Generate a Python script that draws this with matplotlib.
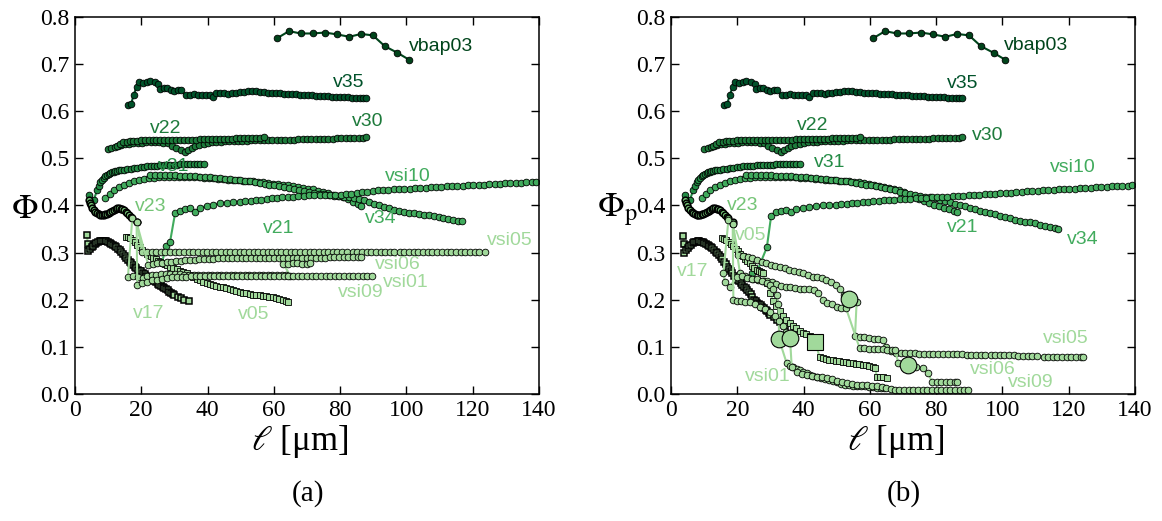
import matplotlib
matplotlib.use("Agg")
import matplotlib.pyplot as plt

# ---------------- data ----------------
# shared by both panels (Phi_p == Phi for these)
vbap03_x = [61.0, 64.6, 68.1, 71.8, 75.4, 79.1, 82.8, 86.3, 89.9, 93.5, 97.3, 100.9]
vbap03_y = [0.755, 0.770, 0.765, 0.765, 0.767, 0.763, 0.758, 0.764, 0.761, 0.738, 0.724, 0.709]

v35_x = [16.1, 17.0, 17.7, 18.6, 19.4, 20.5, 21.8, 22.7, 24.2, 25.2,
         25.7, 26.8, 27.8, 28.9, 30.0, 31.0, 32.0, 33.4, 34.6, 35.8,
         37.0, 38.2, 39.4, 40.6, 41.6, 42.7, 43.9, 45.1, 46.3, 47.5,
         48.7, 49.9, 51.1, 52.3, 53.5, 54.7, 55.9, 57.1, 58.3, 59.5,
         60.7, 61.9, 63.1, 64.3, 65.5, 66.7, 67.9, 69.1, 70.3, 71.5,
         72.7, 73.9, 75.1, 76.3, 77.5, 78.7, 79.9, 81.1, 82.3, 83.5,
         84.7, 85.9, 87.0, 87.9]
v35_y = [0.614, 0.616, 0.635, 0.651, 0.662, 0.660, 0.663, 0.665, 0.661, 0.658,
         0.648, 0.650, 0.649, 0.644, 0.642, 0.645, 0.644, 0.634, 0.634, 0.636,
         0.635, 0.634, 0.635, 0.634, 0.631, 0.639, 0.638, 0.638, 0.637, 0.638,
         0.639, 0.640, 0.641, 0.642, 0.643, 0.642, 0.641, 0.640, 0.639, 0.639,
         0.638, 0.638, 0.637, 0.637, 0.636, 0.636, 0.635, 0.635, 0.634, 0.634,
         0.633, 0.633, 0.632, 0.632, 0.631, 0.631, 0.630, 0.630, 0.630, 0.629,
         0.629, 0.628, 0.628, 0.628]

v30_x = [10.0, 11.0, 12.0, 13.0, 14.0, 15.0, 16.3, 17.6, 18.9, 20.2,
         21.5, 22.8, 24.1, 25.4, 26.7, 28.0, 29.3, 30.6, 31.9, 33.2,
         34.2, 35.2, 36.2, 37.5, 38.8, 40.1, 41.4, 42.7, 44.0, 45.3,
         46.6, 47.9, 49.2, 50.5, 51.8, 53.1, 54.4, 55.7, 57.0, 58.3,
         59.6, 60.9, 62.2, 63.5, 64.8, 66.1, 67.4, 68.7, 70.0, 71.3,
         72.6, 73.9, 75.2, 76.5, 77.8, 79.1, 80.4, 81.7, 83.0, 84.3,
         85.6, 86.9, 87.9]
v30_y = [0.519, 0.522, 0.525, 0.527, 0.529, 0.530, 0.531, 0.532, 0.533, 0.533,
         0.534, 0.534, 0.534, 0.534, 0.533, 0.532, 0.527, 0.522, 0.518, 0.514,
         0.518, 0.522, 0.526, 0.529, 0.531, 0.533, 0.534, 0.535, 0.535, 0.536,
         0.536, 0.536, 0.537, 0.537, 0.537, 0.538, 0.538, 0.538, 0.539, 0.539,
         0.539, 0.539, 0.540, 0.540, 0.540, 0.540, 0.541, 0.541, 0.541, 0.541,
         0.541, 0.542, 0.542, 0.542, 0.542, 0.543, 0.543, 0.543, 0.543, 0.544,
         0.544, 0.544, 0.545]

v22_x = [12.6, 13.6, 14.6, 15.6, 16.6, 17.6, 18.6, 19.8, 21.0, 22.2,
         23.4, 24.6, 25.8, 27.0, 28.2, 29.4, 30.6, 31.8, 33.0, 34.2,
         35.4, 36.6, 37.8, 39.0, 40.2, 41.4, 42.6, 43.8, 45.0, 46.2,
         47.4, 48.6, 49.8, 51.0, 52.2, 53.4, 54.6, 55.8, 57.0]
v22_y = [0.527, 0.531, 0.534, 0.535, 0.536, 0.537, 0.537, 0.538, 0.538, 0.538,
         0.538, 0.539, 0.539, 0.539, 0.539, 0.539, 0.539, 0.540, 0.540, 0.540,
         0.540, 0.540, 0.541, 0.541, 0.541, 0.541, 0.542, 0.542, 0.542, 0.542,
         0.542, 0.543, 0.543, 0.543, 0.543, 0.544, 0.544, 0.544, 0.545]

v31_x = [4.2, 5.7, 6.7, 7.2, 7.7, 8.2, 8.7, 9.2, 9.7, 10.2,
         10.7, 11.2, 11.7, 12.2, 12.7, 13.3, 13.8, 14.8, 15.8, 16.8,
         17.8, 18.8, 19.8, 20.8, 21.8, 22.8, 23.8, 24.8, 25.8, 26.8,
         27.8, 28.8, 29.8, 30.8, 31.8, 32.8, 33.8, 34.8, 35.8, 36.8,
         37.8, 38.9]
v31_y = [0.422, 0.412, 0.433, 0.442, 0.450, 0.455, 0.459, 0.462, 0.465, 0.467,
         0.469, 0.470, 0.472, 0.473, 0.474, 0.475, 0.475, 0.476, 0.477, 0.478,
         0.479, 0.480, 0.481, 0.482, 0.483, 0.483, 0.484, 0.484, 0.485, 0.485,
         0.485, 0.486, 0.486, 0.486, 0.487, 0.487, 0.487, 0.487, 0.488, 0.488,
         0.488, 0.488]

v21_x = [9.2, 10.5, 11.8, 13.3, 14.8, 16.3, 17.8, 19.3, 20.8, 22.3,
         23.8, 25.3, 26.8, 28.3, 29.8, 31.3, 32.8, 34.3, 35.8, 37.3,
         38.8, 40.3, 41.8, 43.3, 44.8, 46.3, 47.8, 49.3, 50.8, 52.3,
         53.8, 55.3, 56.8, 58.3, 59.8, 61.3, 62.8, 64.3, 65.8, 67.3,
         68.8, 70.3, 71.8, 73.3, 74.8, 76.3, 77.8, 79.3, 80.8, 82.3,
         83.8, 85.3, 86.3]
v21_phi = [0.415, 0.425, 0.433, 0.439, 0.444, 0.448, 0.451, 0.454, 0.456, 0.458,
           0.459, 0.460, 0.461, 0.461, 0.461, 0.461, 0.461, 0.461, 0.460, 0.460,
           0.459, 0.459, 0.458, 0.457, 0.456, 0.455, 0.455, 0.454, 0.453, 0.452,
           0.451, 0.450, 0.449, 0.447, 0.446, 0.445, 0.444, 0.443, 0.441, 0.440,
           0.438, 0.436, 0.434, 0.431, 0.428, 0.426, 0.423, 0.420, 0.417, 0.413,
           0.408, 0.403, 0.398]
v21_phip = [0.415, 0.425, 0.433, 0.439, 0.444, 0.448, 0.451, 0.454, 0.456, 0.458,
            0.459, 0.460, 0.461, 0.461, 0.461, 0.461, 0.461, 0.461, 0.460, 0.460,
            0.459, 0.459, 0.458, 0.457, 0.456, 0.455, 0.455, 0.454, 0.453, 0.452,
            0.451, 0.450, 0.449, 0.447, 0.446, 0.444, 0.442, 0.440, 0.438, 0.436,
            0.433, 0.428, 0.423, 0.418, 0.413, 0.409, 0.405, 0.401, 0.398, 0.395,
            0.392, 0.389, 0.387]

v34_x = [22.7, 24.2, 25.7, 27.2, 28.7, 30.2, 31.7, 33.2, 34.7, 36.2,
         37.7, 39.2, 40.7, 42.2, 43.7, 45.2, 46.7, 48.2, 49.7, 51.2,
         52.7, 54.2, 55.7, 57.2, 58.7, 60.2, 61.7, 63.2, 64.7, 66.2,
         67.7, 69.2, 70.7, 72.2, 73.7, 75.2, 76.7, 78.2, 79.7, 81.2,
         82.7, 84.2, 85.7, 87.2, 88.7, 90.2, 91.7, 93.2, 94.7, 96.2,
         97.7, 99.2, 100.7, 102.2, 103.7, 105.2, 106.7, 108.2, 109.7, 111.2,
         112.7, 114.2, 115.7, 116.9]
v34_phi = [0.465, 0.465, 0.465, 0.464, 0.464, 0.464, 0.463, 0.463, 0.462, 0.462,
           0.461, 0.461, 0.460, 0.459, 0.458, 0.457, 0.456, 0.455, 0.454, 0.452,
           0.451, 0.449, 0.448, 0.446, 0.444, 0.443, 0.441, 0.439, 0.437, 0.435,
           0.433, 0.431, 0.429, 0.427, 0.425, 0.424, 0.422, 0.421, 0.420, 0.419,
           0.417, 0.416, 0.414, 0.411, 0.408, 0.404, 0.400, 0.397, 0.394, 0.391,
           0.389, 0.387, 0.385, 0.383, 0.382, 0.380, 0.379, 0.377, 0.376, 0.374,
           0.372, 0.370, 0.368, 0.367]
v34_phip = [0.465, 0.465, 0.465, 0.464, 0.464, 0.464, 0.463, 0.463, 0.462, 0.462,
            0.461, 0.461, 0.460, 0.459, 0.458, 0.457, 0.456, 0.455, 0.454, 0.452,
            0.451, 0.449, 0.448, 0.446, 0.444, 0.443, 0.441, 0.439, 0.437, 0.435,
            0.432, 0.429, 0.427, 0.425, 0.423, 0.421, 0.419, 0.417, 0.415, 0.412,
            0.410, 0.407, 0.404, 0.401, 0.398, 0.395, 0.392, 0.389, 0.386, 0.383,
            0.381, 0.378, 0.375, 0.373, 0.370, 0.368, 0.366, 0.364, 0.362, 0.359,
            0.357, 0.355, 0.353, 0.351]

vsi10_x = [26.2, 27.5, 28.7, 30.2, 31.7, 33.2, 34.7, 36.2, 37.7, 39.7,
           41.7, 43.8, 45.8, 47.8, 49.8, 51.4, 53.0, 54.6, 56.2, 57.8,
           59.4, 61.0, 62.6, 64.2, 65.8, 67.4, 69.0, 70.6, 72.2, 73.8,
           75.4, 77.0, 78.6, 80.2, 81.8, 83.4, 85.0, 86.6, 88.2, 89.8,
           91.4, 93.0, 94.6, 96.2, 97.8, 99.4, 101.0, 102.6, 104.2, 105.8,
           107.4, 109.0, 110.6, 112.2, 113.8, 115.4, 117.0, 118.6, 120.2, 121.8,
           123.4, 125.0, 126.6, 128.2, 129.8, 131.4, 133.0, 134.6, 136.2, 137.8,
           139.0]
vsi10_phi = [0.277, 0.313, 0.323, 0.383, 0.389, 0.392, 0.394, 0.387, 0.395, 0.399,
             0.402, 0.405, 0.406, 0.407, 0.408, 0.409, 0.410, 0.411, 0.412, 0.414,
             0.415, 0.416, 0.417, 0.418, 0.419, 0.420, 0.421, 0.422, 0.422, 0.422,
             0.422, 0.422, 0.422, 0.423, 0.424, 0.425, 0.426, 0.428, 0.429, 0.431,
             0.432, 0.433, 0.433, 0.434, 0.435, 0.435, 0.436, 0.437, 0.437, 0.438,
             0.439, 0.440, 0.440, 0.441, 0.441, 0.442, 0.442, 0.443, 0.443, 0.444,
             0.444, 0.445, 0.445, 0.446, 0.447, 0.447, 0.448, 0.448, 0.449, 0.449,
             0.449]
vsi10b_x = [24.4, 26.0, 28.9] + vsi10_x[3:]
vsi10_phip = [0.256, 0.261, 0.311, 0.378, 0.387, 0.389, 0.390, 0.386, 0.392, 0.395,
              0.397, 0.399, 0.400, 0.401, 0.402, 0.403, 0.404, 0.405, 0.406, 0.407,
              0.408, 0.409, 0.410, 0.411, 0.411, 0.412, 0.413, 0.413, 0.414, 0.415,
              0.416, 0.416, 0.417, 0.418, 0.418, 0.419, 0.420, 0.421, 0.421, 0.422,
              0.423, 0.423, 0.424, 0.425, 0.425, 0.426, 0.427, 0.427, 0.428, 0.429,
              0.430, 0.430, 0.431, 0.432, 0.432, 0.433, 0.434, 0.435, 0.435, 0.436,
              0.437, 0.437, 0.438, 0.439, 0.439, 0.440, 0.441, 0.441, 0.442, 0.442,
              0.443]

v23_x = [4.2, 4.5, 4.8, 5.2, 5.7, 6.2, 6.7, 7.2, 7.7, 8.2,
         8.7, 9.2, 9.7, 10.2, 10.7, 11.3, 11.8, 12.3, 12.8, 13.3,
         13.8, 14.3, 14.8, 15.3, 15.8, 16.3, 16.8, 17.3, 18.6]
v23_y = [0.412, 0.405, 0.400, 0.395, 0.390, 0.387, 0.384, 0.381, 0.380, 0.380,
         0.380, 0.381, 0.382, 0.384, 0.386, 0.389, 0.391, 0.393, 0.394, 0.394,
         0.393, 0.392, 0.390, 0.387, 0.383, 0.380, 0.376, 0.373, 0.364]

v17_x = [3.7, 3.8, 4.0, 4.5, 5.0, 5.5, 6.0, 6.5, 7.0, 7.5,
         8.0, 8.5, 9.0, 9.5, 10.0, 10.5, 11.0, 11.5, 12.0, 12.5,
         13.0, 13.5, 14.0, 14.5, 15.0, 15.5, 16.0, 16.5, 17.0, 17.5,
         18.0, 18.5, 19.0, 19.5, 20.0, 20.5, 21.0, 21.5, 22.0, 22.5,
         23.0, 23.5, 24.0, 24.5, 25.0, 25.5, 26.0, 26.5, 27.0, 27.5,
         28.0, 28.5, 29.0, 29.5, 30.0, 31.0, 32.0, 33.0, 34.4]
v17_phi = [0.337, 0.318, 0.303, 0.307, 0.311, 0.315, 0.318, 0.321, 0.323, 0.324,
           0.325, 0.325, 0.325, 0.324, 0.323, 0.321, 0.319, 0.317, 0.314, 0.311,
           0.308, 0.305, 0.301, 0.297, 0.293, 0.289, 0.285, 0.281, 0.277, 0.273,
           0.270, 0.267, 0.264, 0.262, 0.260, 0.257, 0.254, 0.251, 0.249, 0.246,
           0.244, 0.241, 0.239, 0.237, 0.234, 0.232, 0.230, 0.227, 0.225, 0.222,
           0.220, 0.217, 0.215, 0.213, 0.210, 0.206, 0.203, 0.200, 0.197]
v17_phip = [0.336, 0.318, 0.300, 0.305, 0.309, 0.313, 0.317, 0.320, 0.322, 0.323,
            0.324, 0.324, 0.323, 0.322, 0.321, 0.319, 0.317, 0.315, 0.312, 0.309,
            0.306, 0.302, 0.299, 0.295, 0.291, 0.286, 0.281, 0.276, 0.270, 0.265,
            0.260, 0.256, 0.251, 0.246, 0.242, 0.239, 0.235, 0.231, 0.228, 0.224,
            0.220, 0.216, 0.212, 0.206, 0.200, 0.197, 0.194, 0.191, 0.188, 0.185,
            0.182, 0.179, 0.176, 0.172, 0.168, 0.163, 0.158, 0.153, 0.145]

v05_x = [15.3, 16.0, 16.7, 17.4, 18.1, 18.8, 19.5, 20.2, 20.9, 21.6,
         22.3, 23.0, 23.7, 24.4, 25.1, 25.8, 26.5, 27.2, 27.9, 28.7,
         29.7, 30.7, 31.7, 32.7, 33.7, 34.7, 35.7, 36.7, 37.7, 38.7,
         39.7, 40.7, 41.7, 42.7, 43.7, 44.7, 45.7, 46.7, 47.7, 48.7,
         49.7, 50.7, 51.7, 52.7, 53.7, 54.7, 55.7, 56.7, 57.7, 58.7,
         59.7, 60.7, 61.7, 62.7, 63.6, 64.4]
v05_phi = [0.334, 0.333, 0.331, 0.327, 0.322, 0.316, 0.311, 0.306, 0.302, 0.298,
           0.295, 0.292, 0.289, 0.286, 0.283, 0.281, 0.278, 0.276, 0.273, 0.270,
           0.267, 0.265, 0.262, 0.259, 0.256, 0.253, 0.249, 0.245, 0.241, 0.238,
           0.236, 0.234, 0.232, 0.230, 0.228, 0.226, 0.224, 0.222, 0.220, 0.218,
           0.216, 0.215, 0.214, 0.212, 0.211, 0.210, 0.209, 0.208, 0.207, 0.206,
           0.205, 0.204, 0.202, 0.200, 0.198, 0.196]
v05b_x = [15.3, 16.0, 16.7, 17.4, 18.1, 18.8, 19.5, 20.2, 20.9, 21.6,
          22.3, 23.0, 23.7, 24.4, 25.1, 25.8, 26.5, 27.2, 27.8, 28.8,
          29.8, 30.8, 31.8, 32.8, 33.8, 34.8, 35.8, 36.8, 37.8, 38.8,
          39.8, 40.8, 41.8, 42.6, 43.5, 44.8, 45.8, 46.8, 47.8, 48.8,
          49.8, 50.8, 51.8, 52.8, 53.8, 54.8, 55.8, 56.8, 57.8, 58.8,
          59.8, 60.8, 61.6, 62.1, 63.1, 64.1, 65.1]
v05_phip = [0.332, 0.329, 0.326, 0.322, 0.318, 0.313, 0.308, 0.303, 0.297, 0.292,
            0.287, 0.282, 0.277, 0.272, 0.268, 0.264, 0.261, 0.258, 0.256, 0.236,
            0.215, 0.198, 0.186, 0.176, 0.166, 0.157, 0.150, 0.144, 0.139, 0.134,
            0.130, 0.127, 0.124, 0.121, 0.111, 0.079, 0.076, 0.074, 0.073, 0.072,
            0.071, 0.069, 0.068, 0.067, 0.066, 0.065, 0.064, 0.063, 0.062, 0.061,
            0.059, 0.057, 0.055, 0.037, 0.036, 0.035, 0.033]

# light vsi series, panel (a)
vsi05a_x = [18.6, 20.3, 21.7, 23.1, 24.5, 25.9, 27.3, 28.7, 30.1, 31.5,
            32.9, 34.3, 35.7, 37.1, 38.5, 39.9, 41.3, 42.7, 44.1, 45.5,
            46.9, 48.3, 49.7, 51.1, 52.5, 53.9, 55.3, 56.7, 58.1, 59.5,
            60.9, 62.3, 63.7, 65.1, 66.5, 67.8, 69.4, 70.8, 72.2, 73.6,
            75.0, 76.4, 77.8, 79.2, 80.6, 82.0, 83.8, 85.2, 86.6, 88.0,
            89.4, 90.8, 92.2, 93.6, 95.0, 96.4, 98.0, 99.4, 100.8, 102.2,
            103.6, 105.0, 106.4, 107.8, 109.2, 110.8, 112.2, 113.6, 115.0, 116.4,
            117.8, 119.2, 120.6, 122.0, 123.7]
vsi05a_y = [0.364, 0.302, 0.302, 0.302, 0.302, 0.302, 0.302, 0.302, 0.302, 0.302,
            0.302, 0.302, 0.302, 0.302, 0.302, 0.302, 0.302, 0.302, 0.302, 0.302,
            0.302, 0.302, 0.302, 0.302, 0.302, 0.302, 0.302, 0.302, 0.302, 0.302,
            0.302, 0.302, 0.302, 0.302, 0.302, 0.302, 0.302, 0.302, 0.302, 0.302,
            0.302, 0.302, 0.302, 0.302, 0.302, 0.302, 0.302, 0.302, 0.302, 0.302,
            0.302, 0.302, 0.302, 0.302, 0.302, 0.302, 0.302, 0.302, 0.302, 0.302,
            0.302, 0.302, 0.302, 0.302, 0.302, 0.302, 0.302, 0.302, 0.301, 0.301,
            0.301, 0.301, 0.301, 0.301, 0.301]

vsi06a_x = [18.6, 22.1, 23.5, 24.9, 26.3, 27.7, 29.1, 30.5, 31.9, 33.3,
            34.7, 36.1, 37.5, 38.9, 40.3, 41.7, 43.3, 44.7, 46.1, 47.5,
            48.9, 50.3, 51.7, 53.1, 54.5, 55.9, 57.3, 58.7, 60.1, 61.5,
            62.9, 64.3, 65.7, 67.1, 68.5, 69.9, 71.3, 72.7, 74.1, 75.5,
            76.9, 78.3, 79.7, 81.1, 82.5, 83.9, 85.3, 86.3]
vsi06a_y = [0.364, 0.274, 0.276, 0.278, 0.279, 0.280, 0.281, 0.282, 0.283, 0.284,
            0.284, 0.285, 0.286, 0.286, 0.287, 0.287, 0.288, 0.288, 0.288, 0.288,
            0.288, 0.288, 0.288, 0.288, 0.288, 0.288, 0.288, 0.288, 0.288, 0.288,
            0.288, 0.288, 0.288, 0.289, 0.289, 0.289, 0.289, 0.289, 0.289, 0.289,
            0.290, 0.290, 0.290, 0.290, 0.290, 0.290, 0.290, 0.290]

vsi01a_x = [17.3, 16.0, 17.6, 19.0, 20.4, 21.8, 23.2, 24.6, 26.0, 27.4,
            28.8, 30.2, 31.6, 33.0, 34.4, 35.8, 37.2, 38.6, 40.0, 41.4,
            42.8, 44.2, 45.6, 47.0, 48.4, 49.8, 51.2, 52.6, 54.0, 55.4,
            56.8, 58.2, 59.6, 61.0, 62.4, 63.8, 65.0, 62.9, 64.3, 65.7,
            67.1, 68.5, 69.9, 70.9]
vsi01a_y = [0.373, 0.249, 0.250, 0.248, 0.246, 0.250, 0.252, 0.253, 0.254, 0.254,
            0.254, 0.254, 0.254, 0.253, 0.253, 0.253, 0.252, 0.252, 0.252, 0.252,
            0.252, 0.252, 0.252, 0.252, 0.252, 0.252, 0.252, 0.252, 0.252, 0.252,
            0.252, 0.252, 0.252, 0.252, 0.252, 0.252, 0.251, 0.276, 0.276, 0.277,
            0.277, 0.276, 0.276, 0.277]

vsi09a_x = [18.6, 18.8, 20.3, 21.8, 23.3, 24.8, 26.3, 27.8, 29.3, 30.8,
            32.2, 33.6, 35.0, 36.4, 37.8, 39.2, 40.6, 42.0, 43.4, 44.8,
            46.2, 47.6, 49.0, 50.4, 51.8, 53.2, 54.6, 56.0, 57.4, 58.8,
            60.2, 61.6, 63.0, 64.4, 65.8, 67.2, 68.6, 70.0, 71.4, 72.8,
            74.2, 75.6, 77.0, 78.4, 79.8, 81.2, 82.6, 84.0, 85.4, 86.8,
            88.2, 89.6]
vsi09a_y = [0.364, 0.231, 0.235, 0.238, 0.241, 0.242, 0.245, 0.247, 0.248, 0.249,
            0.249, 0.249, 0.250, 0.250, 0.250, 0.250, 0.250, 0.250, 0.250, 0.250,
            0.250, 0.250, 0.250, 0.250, 0.250, 0.250, 0.250, 0.250, 0.250, 0.250,
            0.250, 0.250, 0.250, 0.250, 0.250, 0.250, 0.250, 0.250, 0.250, 0.250,
            0.250, 0.250, 0.250, 0.250, 0.250, 0.250, 0.250, 0.250, 0.250, 0.250,
            0.250, 0.250]

# light vsi series, panel (b)
vsi05b_x = [18.6, 20.3, 21.7, 23.1, 24.5, 25.9, 27.3, 28.7, 30.1, 31.5,
            32.9, 34.3, 35.7, 37.1, 38.5, 39.9, 41.3, 42.7, 44.1, 45.5,
            46.9, 48.3, 49.7, 51.0, 52.2, 53.7, 56.0, 55.5, 56.9, 58.3,
            59.7, 61.1, 62.5, 63.9, 64.9, 66.5, 67.9, 69.3, 70.7, 72.1,
            73.5, 74.9, 76.3, 77.7, 79.1, 80.5, 82.0, 83.6, 85.0, 86.4,
            87.8, 89.2, 90.6, 92.0, 93.4, 94.8, 96.4, 97.8, 99.2, 100.6,
            102.0, 103.4, 104.8, 106.2, 107.6, 109.0, 110.4, 112.4, 113.8, 115.2,
            116.6, 118.0, 119.4, 120.8, 122.2, 123.6, 124.4]
vsi05b_y = [0.361, 0.295, 0.292, 0.290, 0.288, 0.284, 0.280, 0.277, 0.274, 0.271,
            0.269, 0.267, 0.264, 0.260, 0.258, 0.256, 0.252, 0.249, 0.249, 0.246,
            0.242, 0.238, 0.232, 0.222, 0.210, 0.201, 0.196, 0.122, 0.121, 0.120,
            0.119, 0.117, 0.116, 0.114, 0.100, 0.092, 0.087, 0.086, 0.086, 0.086,
            0.086, 0.085, 0.085, 0.085, 0.085, 0.085, 0.084, 0.084, 0.084, 0.084,
            0.084, 0.083, 0.083, 0.083, 0.083, 0.083, 0.082, 0.082, 0.082, 0.082,
            0.082, 0.082, 0.081, 0.081, 0.081, 0.081, 0.081, 0.079, 0.079, 0.079,
            0.079, 0.078, 0.078, 0.078, 0.078, 0.078, 0.078]

vsi06b_x = [18.6, 20.8, 22.2, 23.6, 24.8, 26.2, 27.6, 29.0, 30.4, 31.8,
            33.2, 34.6, 36.0, 37.4, 38.8, 40.2, 41.6, 43.0, 44.4, 45.8,
            47.2, 48.6, 50.0, 51.4, 52.8, 56.9, 58.3, 59.7, 61.1, 62.5,
            63.9, 65.3, 66.7, 67.6, 68.6, 71.6, 74.0, 76.1, 77.6, 78.7,
            80.1, 81.5, 82.9, 84.3, 85.7, 86.2]
vsi06b_y = [0.361, 0.256, 0.251, 0.247, 0.245, 0.242, 0.240, 0.239, 0.237, 0.233,
            0.229, 0.228, 0.226, 0.224, 0.222, 0.222, 0.222, 0.221, 0.215, 0.200,
            0.193, 0.190, 0.184, 0.182, 0.182, 0.097, 0.097, 0.096, 0.096, 0.095,
            0.095, 0.094, 0.094, 0.093, 0.065, 0.061, 0.058, 0.055, 0.044, 0.026,
            0.026, 0.026, 0.026, 0.026, 0.026, 0.026]

vsi01b_x = [17.3, 15.8, 16.3, 17.8, 19.8, 21.3, 22.8, 24.3, 25.8, 27.3,
            28.8, 29.9, 30.9, 31.9, 32.4, 32.6, 34.9, 35.9, 36.9, 37.9,
            38.9, 39.9, 40.9, 41.9, 42.9, 44.0, 45.2, 46.4, 47.6, 48.8,
            50.0, 51.2, 52.4, 53.6, 54.8, 56.0, 57.2, 58.4, 59.6, 60.8,
            62.0, 63.2, 64.4]
vsi01b_y = [0.369, 0.256, 0.238, 0.228, 0.249, 0.250, 0.246, 0.244, 0.243, 0.240,
            0.236, 0.231, 0.222, 0.210, 0.190, 0.116, 0.065, 0.060, 0.058, 0.054,
            0.051, 0.047, 0.044, 0.040, 0.038, 0.036, 0.034, 0.032, 0.030, 0.027,
            0.025, 0.022, 0.019, 0.018, 0.017, 0.016, 0.016, 0.016, 0.015, 0.014,
            0.013, 0.012, 0.012]

vsi09b_x = [18.6, 18.8, 20.0, 21.2, 22.4, 23.8, 25.3, 26.9, 28.4, 29.9,
            31.3, 32.5, 33.7, 34.8, 35.9, 36.4, 37.9, 39.4, 40.9, 42.4,
            44.0, 45.5, 47.0, 48.5, 50.0, 51.5, 53.0, 54.5, 56.0, 57.5,
            59.0, 60.5, 62.0, 63.5, 65.0, 66.3, 67.5, 68.9, 70.3, 71.7,
            73.1, 74.5, 75.9, 77.3, 78.7, 80.1, 81.5, 82.9, 84.3, 85.7,
            87.1, 88.5, 89.7]
vsi09b_y = [0.361, 0.200, 0.198, 0.197, 0.196, 0.196, 0.190, 0.185, 0.180, 0.175,
            0.165, 0.155, 0.145, 0.132, 0.118, 0.058, 0.047, 0.043, 0.040, 0.039,
            0.037, 0.035, 0.033, 0.031, 0.028, 0.026, 0.023, 0.021, 0.020, 0.019,
            0.018, 0.017, 0.016, 0.014, 0.012, 0.010, 0.008, 0.008, 0.008, 0.008,
            0.008, 0.008, 0.008, 0.008, 0.008, 0.008, 0.008, 0.008, 0.008, 0.008,
            0.008, 0.008, 0.008]

# index of the point drawn enlarged in panel (b)
big_index_b = {"v05": 34, "vsi05": 25, "vsi06": 35, "vsi01": 15, "vsi09": 14}

# label text positions (data coords, left-aligned, vertically centred)
labels_a = {"vbap03": (100.8, 0.738), "v35": (77.9, 0.662), "v22": (22.6, 0.563),
            "v30": (83.5, 0.578), "v31": (25.1, 0.482), "vsi10": (93.5, 0.461),
            "v23": (18.1, 0.397), "v34": (87.5, 0.373), "v21": (56.8, 0.351),
            "vsi05": (124.2, 0.325), "vsi06": (90.5, 0.275), "vsi01": (93.0, 0.237),
            "vsi09": (79.4, 0.215), "v17": (17.6, 0.171), "v05": (49.3, 0.168)}
labels_b = {"vbap03": (100.5, 0.740), "v35": (83.2, 0.659), "v22": (37.9, 0.569),
            "v30": (90.7, 0.548), "v31": (43.2, 0.491), "vsi10": (114.4, 0.481),
            "v23": (16.8, 0.401), "v05": (19.3, 0.337), "v17": (1.7, 0.260),
            "v21": (83.2, 0.353), "v34": (119.4, 0.327), "vsi05": (112.3, 0.118),
            "vsi06": (90.2, 0.052), "vsi09": (101.7, 0.025), "vsi01": (22.3, 0.037)}

colors = {"vbap03": "#00441b", "v35": "#00522a", "v30": "#1d7a3b", "v22": "#1d7a3b",
          "v31": "#238b45", "v21": "#41ab5d", "v34": "#41ab5d", "vsi10": "#41ab5d",
          "v23": "#74c476", "v17": "#a1d99b", "v05": "#a1d99b", "vsi05": "#a1d99b",
          "vsi06": "#a1d99b", "vsi01": "#a1d99b", "vsi09": "#a1d99b"}
dense_bands = ("v23", "v17")

plt.rcParams["font.family"] = "serif"
plt.rcParams["font.serif"] = ["Liberation Serif", "DejaVu Serif"]
plt.rcParams["mathtext.fontset"] = "stix"


def draw_series(ax, name, x, y, marker="o", big=None):
    c = colors[name]
    mew = 1.1 if name in dense_bands else 0.6
    ax.plot(x, y, "-", color=c, lw=1.5, marker=marker, ms=4.8 if marker == "o" else 4.5,
            mfc=c, mec="k", mew=mew, zorder=2)
    if big is not None:
        ax.plot([x[big]], [y[big]], marker=marker, ms=12 if marker == "o" else 11,
                mfc=c, mec="k", mew=0.8, ls="none", zorder=3)


def style_axes(ax):
    ax.set_xlim(0, 140)
    ax.set_ylim(0, 0.8)
    ax.set_xticks(range(0, 141, 20))
    ax.set_yticks([i / 10 for i in range(9)])
    ax.set_yticklabels([f"{i / 10:.1f}" for i in range(9)])
    ax.tick_params(direction="in", top=True, right=True, length=6, width=1,
                   labelsize=17, pad=4)
    for s in ax.spines.values():
        s.set_linewidth(1.1)


def put_labels(ax, labels):
    for name, (lx, ly) in labels.items():
        ax.text(lx, ly, name, color=colors[name], fontsize=14,
                family="Liberation Sans", ha="left", va="center", zorder=5)


fig = plt.figure(figsize=(11.62, 5.21), dpi=100)
ax_a = fig.add_axes([0.0645, 0.2438, 0.3993, 0.7236])
ax_b = fig.add_axes([0.5775, 0.2438, 0.3993, 0.7236])

# panel (a): Phi
draw_series(ax_a, "vbap03", vbap03_x, vbap03_y)
draw_series(ax_a, "v35", v35_x, v35_y)
draw_series(ax_a, "v30", v30_x, v30_y)
draw_series(ax_a, "v22", v22_x, v22_y)
draw_series(ax_a, "v31", v31_x, v31_y)
draw_series(ax_a, "v21", v21_x, v21_phi)
draw_series(ax_a, "v34", v34_x, v34_phi)
draw_series(ax_a, "vsi10", vsi10_x, vsi10_phi)
draw_series(ax_a, "v23", v23_x, v23_y)
draw_series(ax_a, "v17", v17_x, v17_phi, marker="s")
draw_series(ax_a, "v05", v05_x, v05_phi, marker="s")
draw_series(ax_a, "vsi05", vsi05a_x, vsi05a_y)
draw_series(ax_a, "vsi06", vsi06a_x, vsi06a_y)
draw_series(ax_a, "vsi01", vsi01a_x, vsi01a_y)
draw_series(ax_a, "vsi09", vsi09a_x, vsi09a_y)

# panel (b): Phi_p
draw_series(ax_b, "vbap03", vbap03_x, vbap03_y)
draw_series(ax_b, "v35", v35_x, v35_y)
draw_series(ax_b, "v30", v30_x, v30_y)
draw_series(ax_b, "v22", v22_x, v22_y)
draw_series(ax_b, "v31", v31_x, v31_y)
draw_series(ax_b, "v21", v21_x, v21_phip)
draw_series(ax_b, "v34", v34_x, v34_phip)
draw_series(ax_b, "vsi10", vsi10b_x, vsi10_phip)
draw_series(ax_b, "v23", v23_x, v23_y)
draw_series(ax_b, "v17", v17_x, v17_phip, marker="s")
draw_series(ax_b, "v05", v05b_x, v05_phip, marker="s", big=big_index_b["v05"])
draw_series(ax_b, "vsi05", vsi05b_x, vsi05b_y, big=big_index_b["vsi05"])
draw_series(ax_b, "vsi06", vsi06b_x, vsi06b_y, big=big_index_b["vsi06"])
draw_series(ax_b, "vsi01", vsi01b_x, vsi01b_y, big=big_index_b["vsi01"])
draw_series(ax_b, "vsi09", vsi09b_x, vsi09b_y, big=big_index_b["vsi09"])

for ax, labels in ((ax_a, labels_a), (ax_b, labels_b)):
    style_axes(ax)
    put_labels(ax, labels)

fig.text(0.021, 0.597, r"$\Phi$", fontsize=25, ha="center", va="center")
fig.text(0.531, 0.597, r"$\Phi_\mathrm{p}$", fontsize=25, ha="center", va="center")
fig.text(0.258, 0.153, r"$\ell$ [μm]", fontsize=25, ha="center", va="center")
fig.text(0.771, 0.153, r"$\ell$ [μm]", fontsize=25, ha="center", va="center")
fig.text(0.265, 0.052, "(a)", fontsize=21, ha="center", va="center")
fig.text(0.778, 0.052, "(b)", fontsize=21, ha="center", va="center")

fig.savefig("out.png", dpi=100)
plt.close(fig)
